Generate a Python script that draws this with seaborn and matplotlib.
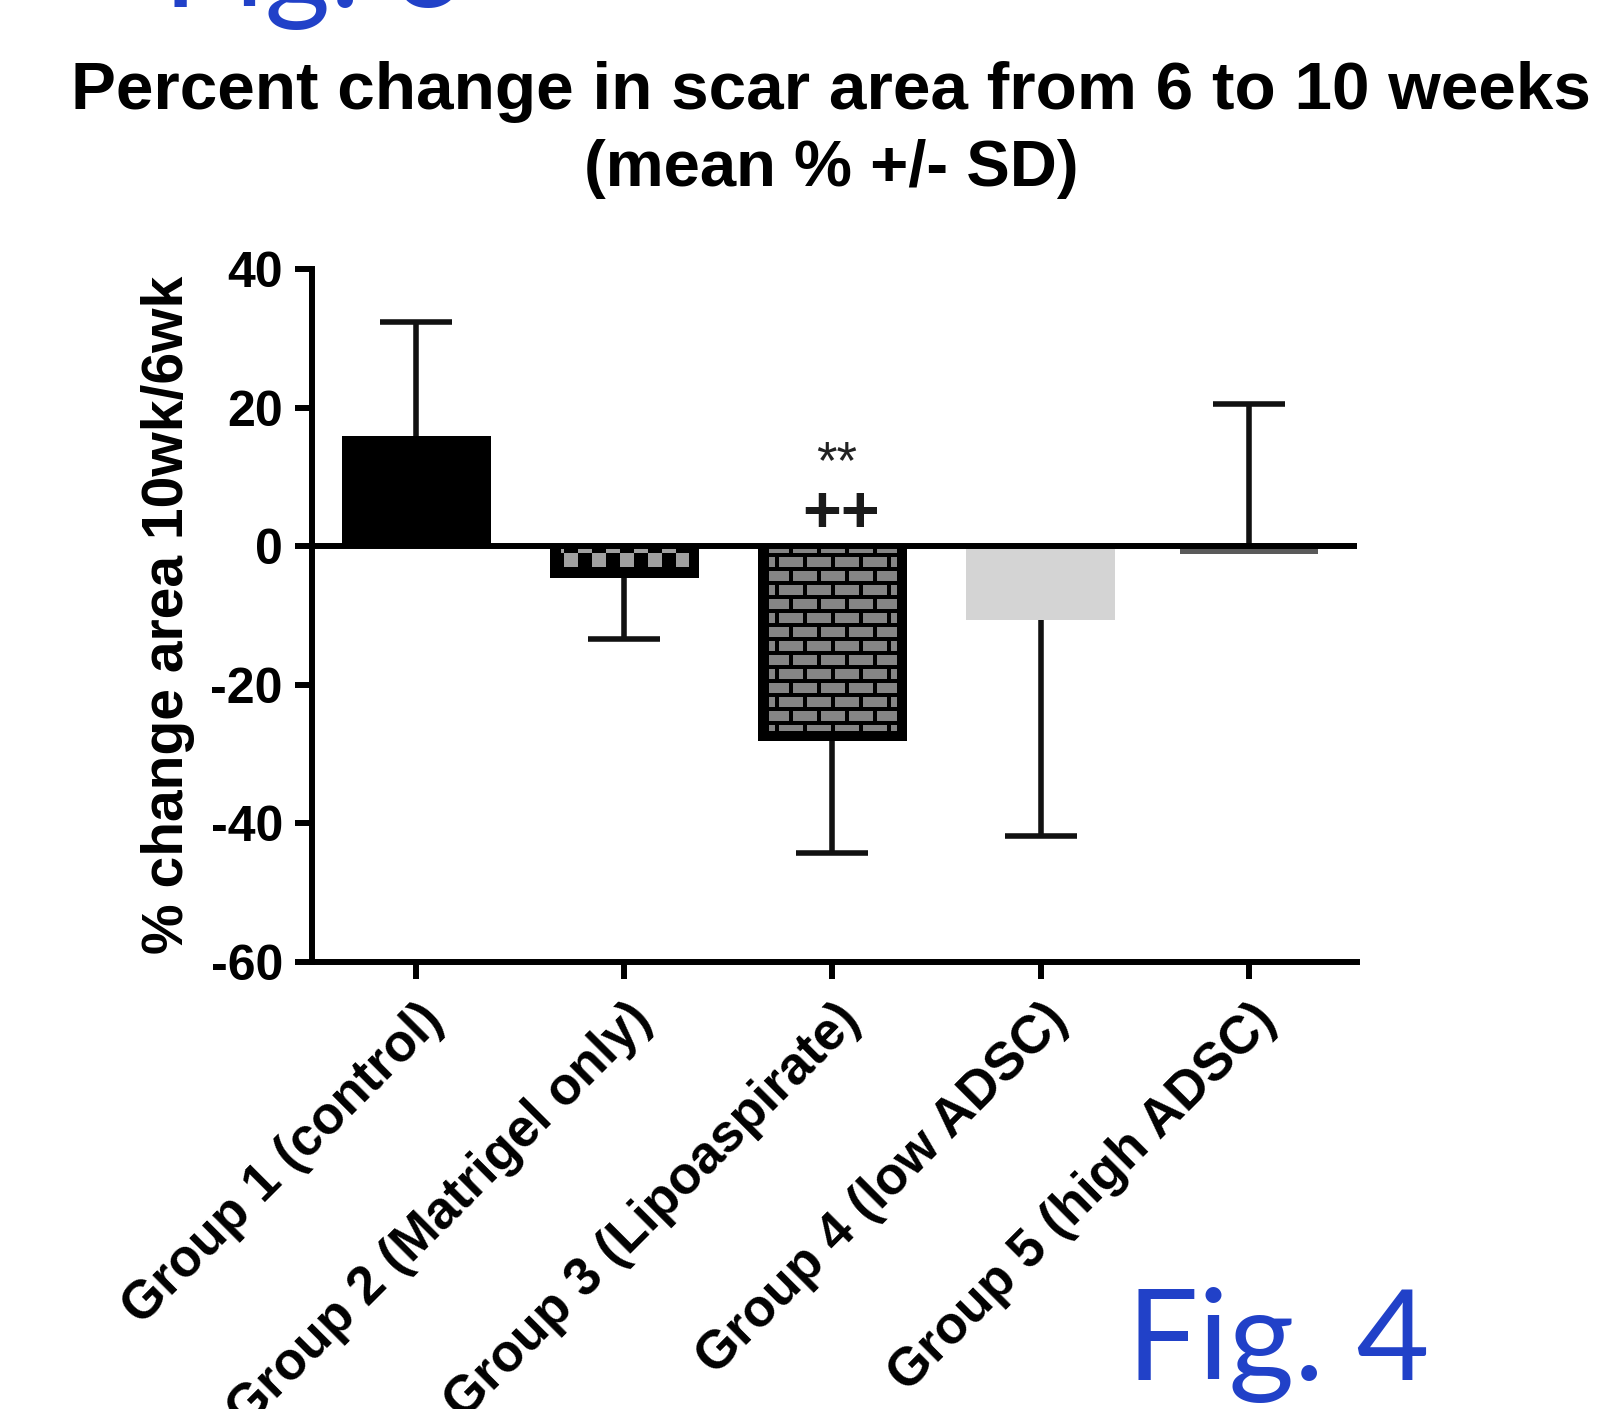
import numpy as np
import matplotlib
matplotlib.use('Agg')
import matplotlib.pyplot as plt
import matplotlib.transforms as mtransforms
import seaborn as sns

# values (mean % change and SD)
groups = ['Group 1 (control)', 'Group 2 (Matrigel only)', 'Group 3 (Lipoaspirate)',
          'Group 4 (low ADSC)', 'Group 5 (high ADSC)']
means = [15.9, -4.6, -28.1, -10.7, -1.1]
sd = [16.4, 8.8, 16.2, 31.1, 21.6]
err_dir = [1, -1, -1, -1, 1]  # error bar drawn up (+1) or down (-1)
bar_colors = ['#000000', '#000000', '#000000', '#d4d4d4', '#5a5a5a']
yticks = [-60, -40, -20, 0, 20, 40]

sns.set_theme(style='ticks')
plt.rcParams['font.family'] = ['Liberation Sans', 'DejaVu Sans']
plt.rcParams['axes.unicode_minus'] = False
for key in ['text.color', 'axes.labelcolor', 'xtick.color', 'ytick.color', 'axes.edgecolor']:
    plt.rcParams[key] = 'black'

W, H = 1598, 1409
fig = plt.figure(figsize=(W / 100, H / 100), dpi=100)
ax = fig.add_axes([312 / W, 1 - 962 / H, (1357 - 312) / W, (962 - 269) / H])

sns.barplot(x=groups, y=means, hue=groups, palette=bar_colors, legend=False,
            width=0.715, saturation=1, errorbar=None, ax=ax, zorder=2, linewidth=0)

# group 5 bar is drawn a little narrower in the original
p5 = ax.patches[4]
cx = p5.get_x() + p5.get_width() / 2
p5.set_width(0.663)
p5.set_x(cx - 0.663 / 2)

# one-sided SD bars
lower = [s if d < 0 else 0 for s, d in zip(sd, err_dir)]
upper = [s if d > 0 else 0 for s, d in zip(sd, err_dir)]
eb = ax.errorbar(range(len(groups)), means, yerr=[lower, upper], fmt='none',
                 ecolor='#111111', elinewidth=4, capsize=26, capthick=4, zorder=1)
low_cap, up_cap = eb.lines[1]
low_cap.set_ydata([y if l > 0 else np.nan for y, l in zip(low_cap.get_ydata(), lower)])
up_cap.set_ydata([y if u > 0 else np.nan for y, u in zip(up_cap.get_ydata(), upper)])

ax.set_xlim(-0.5, 4.52)
ax.set_ylim(-60, 40)
ax.set_yticks(yticks)
ax.set_yticklabels([str(t) for t in yticks])
ax.axhline(0, color='black', lw=4.3, zorder=4)


# texture fills for group 2 (checker) and group 3 (bricks)
def bar_pixels(patch):
    x0, y0 = patch.get_x(), patch.get_y()
    w, h = patch.get_width(), patch.get_height()
    (px0, py0), (px1, py1) = ax.transData.transform([(x0, y0), (x0 + w, y0 + h)])
    return int(round(abs(py1 - py0))), int(round(abs(px1 - px0)))


def checker(h, w):
    r, c = np.mgrid[0:h, 0:w]
    i = np.floor((r - 7) / 14).astype(int)
    j = np.floor((c - 14) / 14).astype(int)
    gray = ((i + j) % 2 == 0)
    border = (c < 11) | (c >= w - 10) | (r >= h - 11)
    img = np.zeros((h, w, 3))
    img[gray & ~border] = 0xa0 / 255
    return img


def bricks(h, w):
    r, c = np.mgrid[0:h, 0:w]
    k = np.floor((r - 7) / 14).astype(int) + 1
    mortar_row = ((r - 7) % 14) < 4
    shift = np.where(k % 2 == 0, 0, 14)
    mortar_col = ((c - 31 + shift) % 28) < 4
    border = (c < 11) | (c >= w - 10) | (r >= h - 10)
    img = np.zeros((h, w, 3))
    img[~(mortar_row | mortar_col | border)] = 0x85 / 255
    return img


for idx, maker in [(1, checker), (2, bricks)]:
    p = ax.patches[idx]
    hp, wp = bar_pixels(p)
    x0, w = p.get_x(), p.get_width()
    top = max(p.get_y(), p.get_y() + p.get_height())
    bot = min(p.get_y(), p.get_y() + p.get_height())
    im = ax.imshow(maker(hp, wp), extent=[x0, x0 + w, bot, top], origin='upper',
                   aspect='auto', interpolation='nearest', zorder=2.5)
    im.set_clip_path(p)

ax.set_xlim(-0.5, 4.52)
ax.set_ylim(-60, 40)

# annotations over group 3
ax.text(2.02, 9.8, '**', ha='center', va='baseline', fontsize=38, color='#222222')
ax.text(2.04, 2.0, '++', ha='center', va='baseline', fontsize=48, fontweight='bold',
        color='#1a1a1a')

for s in ['top', 'right']:
    ax.spines[s].set_visible(False)
for s in ['left', 'bottom']:
    ax.spines[s].set_linewidth(4.3)
    ax.spines[s].set_color('black')

ax.tick_params(axis='both', length=12, width=4.3, color='black', direction='out')
ax.tick_params(axis='y', labelsize=36, pad=9)
ax.tick_params(axis='x', labelsize=38, pad=24)
for lab in ax.get_yticklabels():
    lab.set_fontweight('bold')
ax.set_xticks(range(len(groups)))
ax.set_xticklabels(groups, rotation=45, ha='right', va='center', rotation_mode='anchor',
                   fontweight='bold')
offset = mtransforms.ScaledTranslation(14 / 72, 0, fig.dpi_scale_trans)
for lab in ax.get_xticklabels():
    lab.set_transform(lab.get_transform() + offset)

ax.set_xlabel('')
ax.set_ylabel('')
fig.text(183 / W, 1 - 615 / H, '% change area 10wk/6wk', rotation=90, ha='center',
         va='baseline', rotation_mode='anchor', fontsize=41, fontweight='bold')

fig.text(831 / W, 1 - 109 / H, 'Percent change in scar area from 6 to 10 weeks',
         ha='center', va='baseline', fontsize=48.6, fontweight='bold')
fig.text(831 / W, 1 - 186 / H, '(mean % +/- SD)', ha='center', va='baseline',
         fontsize=47, fontweight='bold')

fig_blue = '#2141c8'
fig.text(163 / W, 1 - 7 / H, 'Fig. 3', ha='left', va='baseline', fontsize=91,
         family=['Lato', 'DejaVu Sans'], color=fig_blue)
fig.text(1127 / W, 1 - 1380 / H, 'Fig. 4', ha='left', va='baseline', fontsize=91,
         family=['Lato', 'DejaVu Sans'], color=fig_blue)

fig.savefig('out.png', dpi=100, facecolor='white')
